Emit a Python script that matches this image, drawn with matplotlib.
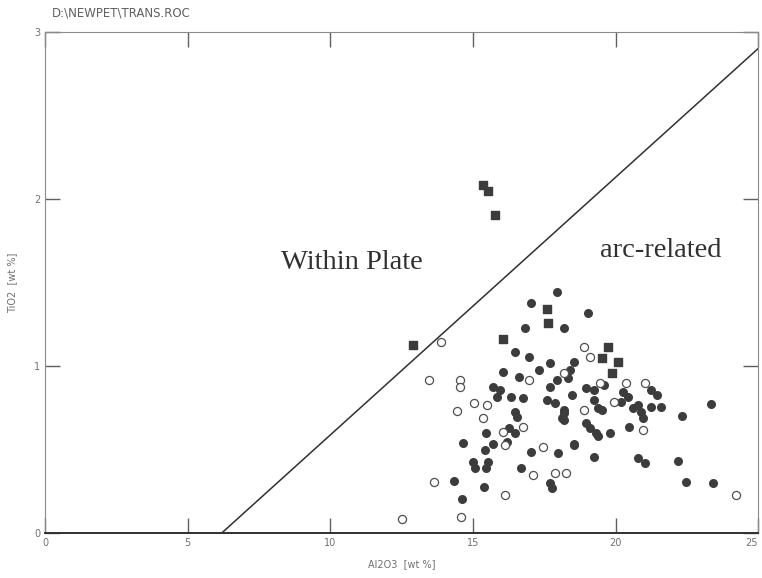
import numpy as np
import matplotlib
matplotlib.use("Agg")
import matplotlib.pyplot as plt

# Al2O3 vs TiO2 (wt %) for the three sample groups
filled_al2o3 = [17.96, 17.02, 16.84, 18.18, 16.46, 16.95, 16.07, 16.60, 17.30, 17.72,
                17.96, 17.72, 15.72, 15.96, 15.86, 16.32, 16.74, 17.61, 17.89, 18.18,
                18.18, 16.49, 16.56, 16.25, 16.49, 15.47, 14.67, 15.72, 15.44, 16.21,
                17.05, 18.00, 18.53, 15.02, 15.09, 15.54, 15.47, 14.35, 14.63, 15.40,
                16.70, 17.72, 17.79, 19.05, 18.53, 18.35, 18.49, 18.95, 19.23, 19.58,
                20.25, 20.42, 20.18, 21.23, 21.47, 21.58, 20.77, 20.88, 20.95, 20.60,
                21.23, 19.23, 19.37, 19.54, 18.18, 18.14, 22.32, 18.95, 19.12, 19.30,
                19.40, 19.82, 20.46, 18.53, 19.26, 20.77, 21.05, 22.18, 22.46, 23.40,
                23.33, 18.42]
filled_tio2 = [1.443, 1.377, 1.228, 1.228, 1.084, 1.054, 0.964, 0.934, 0.976, 1.018,
               0.916, 0.874, 0.874, 0.856, 0.814, 0.814, 0.808, 0.796, 0.778, 0.719,
               0.677, 0.725, 0.695, 0.629, 0.599, 0.599, 0.539, 0.533, 0.497, 0.545,
               0.485, 0.479, 0.533, 0.425, 0.389, 0.425, 0.389, 0.311, 0.204, 0.275,
               0.389, 0.299, 0.269, 1.317, 1.024, 0.928, 0.826, 0.868, 0.856, 0.886,
               0.844, 0.814, 0.784, 0.856, 0.826, 0.754, 0.766, 0.725, 0.689, 0.749,
               0.754, 0.796, 0.749, 0.737, 0.737, 0.689, 0.701, 0.659, 0.629, 0.599,
               0.581, 0.599, 0.635, 0.527, 0.455, 0.449, 0.419, 0.431, 0.305, 0.299,
               0.772, 0.976]

square_al2o3 = [12.91, 15.37, 15.54, 15.79, 16.07, 17.61, 17.65, 19.75, 19.54, 20.07, 19.86]
square_tio2 = [1.126, 2.084, 2.048, 1.904, 1.162, 1.341, 1.257, 1.114, 1.048, 1.024, 0.958]

open_al2o3 = [13.89, 13.47, 14.56, 14.56, 15.05, 15.51, 14.46, 15.37, 16.07, 16.74,
              16.14, 17.47, 17.12, 17.89, 18.25, 13.65, 16.14, 14.60, 12.53, 16.95,
              18.88, 19.12, 18.21, 19.44, 20.35, 21.05, 19.93, 18.88, 20.95, 24.21]
open_tio2 = [1.144, 0.916, 0.916, 0.874, 0.778, 0.766, 0.731, 0.689, 0.605, 0.635,
             0.527, 0.515, 0.347, 0.359, 0.359, 0.305, 0.228, 0.096, 0.084, 0.916,
             1.114, 1.054, 0.958, 0.898, 0.898, 0.898, 0.784, 0.737, 0.617, 0.228]

# discriminant line between the two fields
boundary_al2o3 = [6.2, 25.0]
boundary_tio2 = [0.0, 2.9]

x_ticks = [0, 5, 10, 15, 20, 25]
y_ticks = [0, 1, 2, 3]


def main():
    fig = plt.figure(figsize=(7.62, 5.78), dpi=100)
    ax = fig.add_axes([0.059, 0.078, 0.936, 0.867])

    ax.plot(boundary_al2o3, boundary_tio2, color="#303030", lw=1.1)

    ax.scatter(filled_al2o3, filled_tio2, s=30, marker="o", color="#3c3c3c",
               edgecolors="#3c3c3c", zorder=3)
    ax.scatter(square_al2o3, square_tio2, s=28, marker="s", color="#3c3c3c",
               edgecolors="#3c3c3c", zorder=3)
    ax.scatter(open_al2o3, open_tio2, s=34, marker="o", facecolors="white",
               edgecolors="#505050", linewidths=0.9, zorder=4)

    ax.set_xlim(0, 25)
    ax.set_ylim(0, 3)
    ax.set_xticks(x_ticks)
    ax.set_yticks(y_ticks)
    ax.tick_params(direction="in", length=11, width=1, colors="#606060",
                   top=True, right=True, labelsize=7, labelcolor="#707070")
    # last x label sits at the figure edge, keep it inside
    ax.get_xticklabels()[-1].set_horizontalalignment("right")
    for side in ["top", "right", "left"]:
        ax.spines[side].set_color("#8a8a8a")
        ax.spines[side].set_linewidth(0.8)
    ax.spines["bottom"].set_color("#303030")
    ax.spines["bottom"].set_linewidth(1.4)

    ax.set_xlabel("Al2O3  [wt %]", fontsize=7, color="#707070", labelpad=8)
    ax.set_ylabel("TiO2  [wt %]", fontsize=7, color="#707070", labelpad=12)

    ax.text(10.77, 1.62, "Within Plate", family="Liberation Serif", fontsize=20.5,
            color="#303030", ha="center", va="center")
    ax.text(21.58, 1.69, "arc-related", family="Liberation Serif", fontsize=20.5,
            color="#303030", ha="center", va="center")

    fig.text(0.068, 0.977, "D:\\NEWPET\\TRANS.ROC", fontsize=8.5, color="#606060",
             ha="left", va="center")

    fig.savefig("out.png", dpi=100)


if __name__ == "__main__":
    main()
